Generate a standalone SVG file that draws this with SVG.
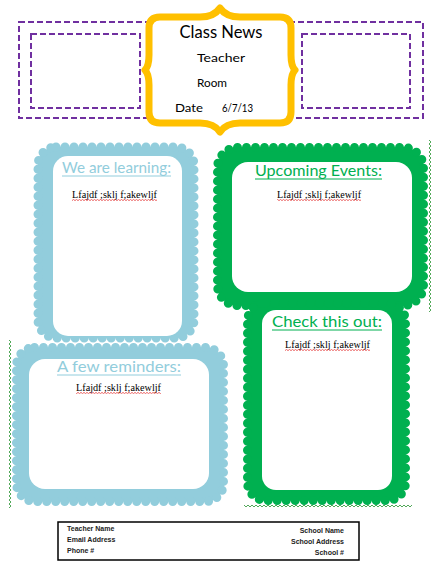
<svg xmlns="http://www.w3.org/2000/svg" width="434" height="568" viewBox="0 0 434 568">
<style>
.purple{fill:none;stroke:#7030A0;stroke-width:2;stroke-dasharray:6 3}
.blue{fill:#92CDDC}
.bscal{fill:none;stroke:#92CDDC;stroke-width:9;stroke-linecap:round;stroke-dasharray:0 9}
.green{fill:#00B050}
.gscal{fill:none;stroke:#00B050;stroke-width:9;stroke-linecap:round;stroke-dasharray:0 9}
.inner{fill:#fff}
.hdr{font-family:Lato,"DejaVu Sans",sans-serif;font-size:16px}
.hb{fill:#92CDDC}
.hg{fill:#00B050}
.body{font-family:"Liberation Serif","Times New Roman",serif;font-size:10px;fill:#000}
.title{font-family:Lato,"DejaVu Sans",sans-serif;fill:#000}
.foot{font-family:"Liberation Sans",Arial,sans-serif;font-size:7px;fill:#222;font-weight:bold}
</style>
<defs>
<pattern id="zv" width="4" height="4" patternUnits="userSpaceOnUse"><path d="M1,0 L3,2 L1,4" fill="none" stroke="#3E9E46" stroke-width="0.9"/></pattern>
<pattern id="zh" width="4" height="4" patternUnits="userSpaceOnUse"><path d="M0,1 L2,3 L4,1" fill="none" stroke="#3E9E46" stroke-width="0.9"/></pattern>
<pattern id="zr" width="3" height="2" patternUnits="userSpaceOnUse"><path d="M0,0.4 L1.5,1.6 L3,0.4" fill="none" stroke="#E02020" stroke-width="0.7"/></pattern>
</defs>
<rect width="434" height="568" fill="#fff"/>

<g id="header">
<rect class="purple" x="19" y="22" width="404" height="96"/>
<rect class="purple" x="31" y="34" width="109" height="74"/>
<rect class="purple" x="302" y="34" width="108" height="74"/>
<path d="M160,17 L200,17 Q214,17 220,8 Q226,17 240,17 L280,17 Q291,17 291,28 L291,55 Q291,66 295,70 Q291,74 291,85 L291,112 Q291,123 280,123 L240,123 Q226,123 220,132 Q214,123 200,123 L160,123 Q149,123 149,112 L149,85 Q149,74 145,70 Q149,66 149,55 L149,28 Q149,17 160,17 Z" fill="#fff" stroke="#FFC000" stroke-width="7" stroke-linejoin="round"/>
<text class="title" x="221" y="38" font-size="17" text-anchor="middle" textLength="83" lengthAdjust="spacingAndGlyphs">Class News</text>
<text class="title" x="197" y="62" font-size="12" textLength="48" lengthAdjust="spacingAndGlyphs">Teacher</text>
<text class="title" x="197" y="87" font-size="12" textLength="30" lengthAdjust="spacingAndGlyphs">Room</text>
<text class="title" x="175" y="112" font-size="12" textLength="28" lengthAdjust="spacingAndGlyphs">Date</text>
<text class="title" x="222" y="112" font-size="11" textLength="31" lengthAdjust="spacingAndGlyphs">6/7/13</text>
</g>

<g id="connectors">
<rect x="428" y="140" width="4" height="172" fill="url(#zv)"/>
<rect x="8" y="340" width="4" height="168" fill="url(#zv)"/>
<rect x="244" y="504" width="168" height="4" fill="url(#zh)"/>
</g>

<g id="learning">
<rect class="blue" x="38" y="147" width="156" height="191" rx="18"/>
<rect class="bscal" x="38" y="147" width="156" height="191" rx="18"/>
<rect class="inner" x="53" y="156" width="129" height="180" rx="15"/>
<text class="hdr hb" x="62" y="173" textLength="109" lengthAdjust="spacingAndGlyphs">We are learning:</text>
<line x1="62" y1="176" x2="171" y2="176" stroke="#92CDDC" stroke-width="1"/>
<text class="body" x="72" y="198" textLength="85" lengthAdjust="spacingAndGlyphs">Lfajdf ;sklj f;akewljf</text>
<rect x="72" y="199" width="85" height="2" fill="url(#zr)"/>
</g>

<g id="reminders">
<rect class="blue" x="16.5" y="347.5" width="207" height="154" rx="18"/>
<rect class="bscal" x="16.5" y="347.5" width="207" height="154" rx="18"/>
<rect class="inner" x="29" y="359" width="180" height="130" rx="16"/>
<text class="hdr hb" x="57" y="372" textLength="124" lengthAdjust="spacingAndGlyphs">A few reminders:</text>
<line x1="57" y1="375" x2="181" y2="375" stroke="#92CDDC" stroke-width="1"/>
<text class="body" x="76" y="391" textLength="85" lengthAdjust="spacingAndGlyphs">Lfajdf ;sklj f;akewljf</text>
<rect x="76" y="392" width="85" height="2" fill="url(#zr)"/>
</g>

<g id="upcoming">
<rect class="green" x="217.5" y="147.5" width="206" height="158" rx="20"/>
<rect class="gscal" x="217.5" y="147.5" width="206" height="158" rx="20"/>
<rect class="inner" x="232" y="162" width="180" height="130" rx="16"/>
<text class="hdr hg" x="255" y="176" textLength="127" lengthAdjust="spacingAndGlyphs">Upcoming Events:</text>
<line x1="255" y1="179" x2="382" y2="179" stroke="#00B050" stroke-width="1"/>
<text class="body" x="277" y="198" textLength="84" lengthAdjust="spacingAndGlyphs">Lfajdf ;sklj f;akewljf</text>
<rect x="277" y="199" width="84" height="2" fill="url(#zr)"/>
</g>

<g id="check">
<rect class="green" x="247.5" y="303" width="158" height="197.5" rx="18"/>
<rect class="gscal" x="247.5" y="303" width="158" height="197.5" rx="18"/>
<rect class="inner" x="262" y="310" width="130" height="180" rx="14"/>
<text class="hdr hg" x="272" y="327" textLength="110" lengthAdjust="spacingAndGlyphs">Check this out:</text>
<line x1="272" y1="330" x2="382" y2="330" stroke="#00B050" stroke-width="1"/>
<text class="body" x="285" y="348" textLength="85" lengthAdjust="spacingAndGlyphs">Lfajdf ;sklj f;akewljf</text>
<rect x="285" y="349" width="85" height="2" fill="url(#zr)"/>
</g>

<g id="footer">
<rect x="58" y="522" width="301" height="38" fill="#fff" stroke="#000" stroke-width="1.5"/>
<text class="foot" x="67" y="531">Teacher Name</text>
<text class="foot" x="67" y="542">Email Address</text>
<text class="foot" x="67" y="553">Phone #</text>
<text class="foot" x="344" y="533" text-anchor="end">School Name</text>
<text class="foot" x="344" y="544" text-anchor="end">School Address</text>
<text class="foot" x="344" y="555" text-anchor="end">School #</text>
</g>
</svg>
